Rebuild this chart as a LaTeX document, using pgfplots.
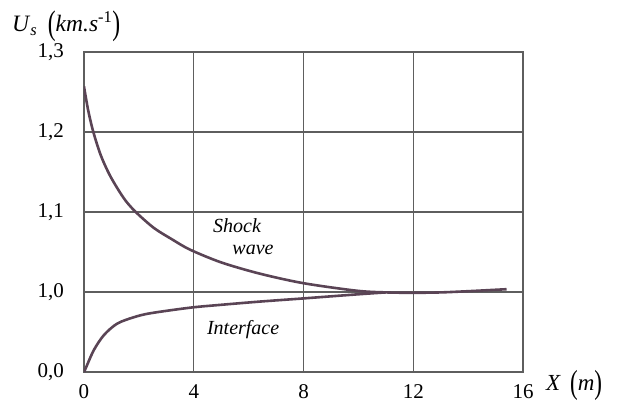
\documentclass[border=0pt]{standalone}
\usepackage{fontspec}
\setmainfont{Liberation Serif}
\usepackage{graphicx}
\usepackage{pgfplots}
\pgfplotsset{compat=1.18}
\definecolor{curvec}{HTML}{5A4455}
\definecolor{gridc}{HTML}{5E5E5E}
\newcommand{\bigp}[1]{\raisebox{-0.12em}{\scalebox{1}[1.45]{#1}}}
\begin{document}
\begin{tikzpicture}
\begin{axis}[at={(0,0)}, anchor=south west, scale only axis, width=439pt, height=320pt,
  xmin=0, xmax=16, ymin=0.9, ymax=1.3,
  xtick={0,4,8,12,16}, xticklabels={0,4,8,12,16},
  ytick={0.9,1.0,1.1,1.2,1.3}, yticklabels={{0,0},{1,0},{1,1},{1,2},{1,3}},
  grid=major, major grid style={gridc, line width=1.1pt},
  axis line style={gridc, line width=1.1pt},
  tick style={draw=none},
  /pgf/number format/assume math mode=true,
  xticklabel style={anchor=north, inner sep=0pt, yshift=-12pt, font=\fontsize{21}{24}\selectfont},
  yticklabel style={anchor=east, inner sep=0pt, xshift=-20pt, font=\fontsize{21}{24}\selectfont},
]
\addplot[curvec, line width=2.6pt, smooth, tension=0.5] coordinates {
(0,1.257) (0.15,1.2275) (0.34,1.200) (0.61,1.171) (0.91,1.148) (1.21,1.130)
(1.52,1.114) (1.9,1.0995) (2.55,1.080) (3.2,1.066) (3.86,1.053) (5,1.037) (6.4,1.023) (8,1.011)
(9.94,1.0016) (11,0.9995) (12,0.999) (13,0.9995) (14,1.001) (15.4,1.0035)};
\addplot[curvec, line width=2.6pt, smooth, tension=0.5] coordinates {
(0,0.900) (0.06,0.9045) (0.36,0.9275) (0.73,0.9463) (1.21,0.9605) (1.82,0.9685) (2.43,0.9735)
(3.89,0.9805) (5,0.984) (6.4,0.988) (8,0.992) (9.94,0.997) (11,0.9995)};
\node[font=\fontsize{20}{22}\selectfont\itshape] at (axis cs:5.58,1.0825) {Shock};
\node[font=\fontsize{20}{22}\selectfont\itshape] at (axis cs:6.16,1.0525) {wave};
\node[font=\fontsize{20}{22}\selectfont\itshape] at (axis cs:5.8,0.9525) {Interface};
\end{axis}
\node[anchor=west, inner sep=0pt, font=\fontsize{23.5}{26}\selectfont] at (-72pt,346pt)
  {\textit{U}\textsubscript{\textit{s}}\hspace{0.45em}\bigp{(}\textit{km.s}\textsuperscript{-1}\bigp{)}};
\node[anchor=west, inner sep=0pt, font=\fontsize{23}{26}\selectfont] at (462pt,-13pt)
  {\textit{X}\hspace{0.4em}\bigp{(}\textit{m}\bigp{)}};
\pgfresetboundingbox
\path[use as bounding box] (-84pt,-44pt) rectangle (538pt,372pt);
\end{tikzpicture}
\end{document}
